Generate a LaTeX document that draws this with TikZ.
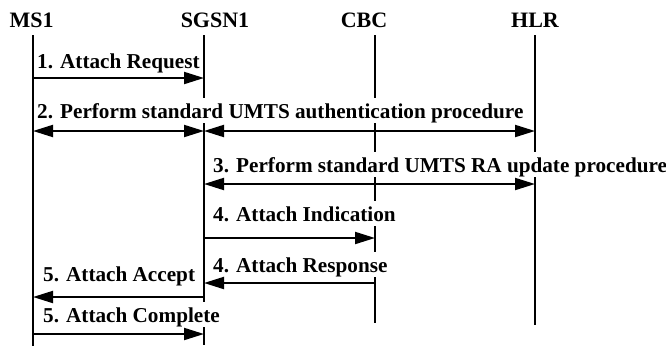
\documentclass[tikz,border=0pt]{standalone}
\usepackage{fontspec}
\setmainfont{Liberation Serif}
\usetikzlibrary{arrows.meta}
\begin{document}
\begin{tikzpicture}[x=1pt,y=-1pt,
  lifeline/.style={line width=2pt},
  tipshape/.style={},
  msg/.style={line width=2pt,-{Triangle[length=20pt,width=12pt]}},
  dmsg/.style={line width=2pt,{Triangle[length=20pt,width=12pt]}-{Triangle[length=20pt,width=12pt]}},
  head/.style={font=\fontsize{22}{26}\selectfont\bfseries, anchor=base, inner sep=0pt},
  lbl/.style={font=\fontsize{21.2}{25}\selectfont\bfseries, anchor=base west, fill=white,
    inner xsep=1pt, inner ysep=1pt, text height=19pt, text depth=4pt}]
\useasboundingbox (0,0) rectangle (666,346);
% headers
\node[head] (hMS) at (31.5,27) {MS1};
\node[head] (hSG) at (215,27) {SGSN1};
\node[head] (hCB) at (364,27) {CBC};
\node[head] (hHL) at (535,27) {HLR};
% lifelines
\coordinate (ms1t) at (33,35);   \coordinate (ms1b) at (33,346);
\coordinate (sgt) at (204,35);   \coordinate (sgb) at (204,345);
\coordinate (cbt) at (375,35);   \coordinate (cbb) at (375,323);
\coordinate (hlt) at (535,35);   \coordinate (hlb) at (535,325);
\draw[lifeline] (ms1t) -- (ms1b);
\draw[lifeline] (sgt) -- (sgb);
\draw[lifeline] (cbt) -- (cbb);
\draw[lifeline] (hlt) -- (hlb);
% labels
\node[lbl] (l1) at (36,68) {1. Attach Request};
\node[lbl] (l2) at (36,118) {2. Perform standard UMTS authentication procedure};
\node[lbl] (l3) at (212,172) {3. Perform standard UMTS RA update procedure};
\node[lbl] (l4a) at (212,221) {4. Attach Indication};
\node[lbl] (l4b) at (212,272) {4. Attach Response};
\node[lbl] (l5a) at (42,281) {5. Attach Accept};
\node[lbl] (l5b) at (42,322) {5. Attach Complete};
% messages
\draw[msg] (ms1t |- 0,78) -- (sgt |- 0,78);
\draw[dmsg] (ms1t |- 0,131) -- (sgt |- 0,131);
\draw[dmsg] (sgt |- 0,131) -- (hlt |- 0,131);
\draw[dmsg] (sgt |- 0,184) -- (hlt |- 0,184);
\draw[msg] (sgt |- 0,238) -- (cbt |- 0,238);
\draw[msg] (cbt |- 0,283) -- (sgt |- 0,283);
\draw[msg] (sgt |- 0,297) -- (ms1t |- 0,297);
\draw[msg] (ms1t |- 0,334) -- (sgt |- 0,334);
\end{tikzpicture}
\end{document}
